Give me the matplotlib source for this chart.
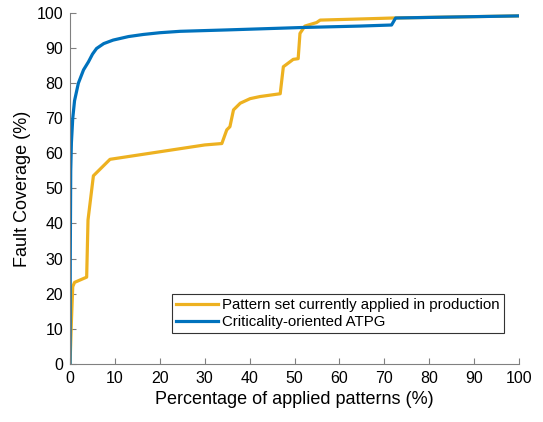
import matplotlib
matplotlib.use("Agg")
import matplotlib.pyplot as plt

plt.rcParams['font.family'] = ['Liberation Sans', 'DejaVu Sans']

# fault coverage curves
prod_x = [0, 0.3, 0.6, 1.0, 3.7, 4.0, 5.2, 8.9, 30.0, 33.8, 34.9, 35.6, 36.4, 37.9,
          40.1, 42.3, 46.8, 47.5, 49.7, 50.8, 51.2, 52.3, 54.9, 55.7, 66.8, 72.0, 100]
prod_y = [0, 12, 22, 23.2, 24.7, 41, 53.6, 58.3, 62.4, 62.8, 66.7, 67.6, 72.4, 74.3,
          75.6, 76.2, 77.0, 84.7, 86.8, 87.0, 94.2, 96.3, 97.3, 98.0, 98.4, 98.6, 99.2]

atpg_x = [0, 0.05, 0.15, 0.3, 0.6, 1.0, 1.85, 3.0, 4.1, 5.0, 5.9, 7.5, 9.6, 13.0,
          16.3, 20.0, 24.5, 35.0, 52.0, 64.6, 71.6, 72.5, 100]
atpg_y = [0, 30, 55, 63, 70, 75, 80, 83.8, 86.1, 88.3, 89.9, 91.3, 92.3, 93.3,
          93.9, 94.4, 94.8, 95.2, 95.9, 96.3, 96.6, 98.6, 99.2]

labels = ['Pattern set currently applied in production', 'Criticality-oriented ATPG']

fig = plt.figure(figsize=(5.43, 4.22), dpi=100)
ax = fig.add_axes([0.129, 0.138, 0.827, 0.831])
ax.plot(prod_x, prod_y, color='#EDB120', lw=2.3, label=labels[0])
ax.plot(atpg_x, atpg_y, color='#0072BD', lw=2.3, label=labels[1])

ax.set_xlim(0, 100)
ax.set_ylim(0, 100)
ax.set_xticks(range(0, 101, 10))
ax.set_yticks(range(0, 101, 10))
for s in ['top', 'right']:
    ax.spines[s].set_visible(False)
for s in ['left', 'bottom']:
    ax.spines[s].set_color('#808080')
ax.tick_params(direction='in', length=4, color='#808080', labelsize=11.5, pad=5)
ax.set_xlabel('Percentage of applied patterns (%)', fontsize=13)
ax.set_ylabel('Fault Coverage (%)', fontsize=13)

leg = ax.legend(loc='lower right', bbox_to_anchor=(0.966, 0.088), borderaxespad=0,
                fontsize=10.8, fancybox=False, framealpha=1, edgecolor='#333333',
                handlelength=2.8, handletextpad=0.3, borderpad=0.25, labelspacing=0.2)
leg.get_frame().set_linewidth(0.8)

fig.savefig('out.png', dpi=100)
